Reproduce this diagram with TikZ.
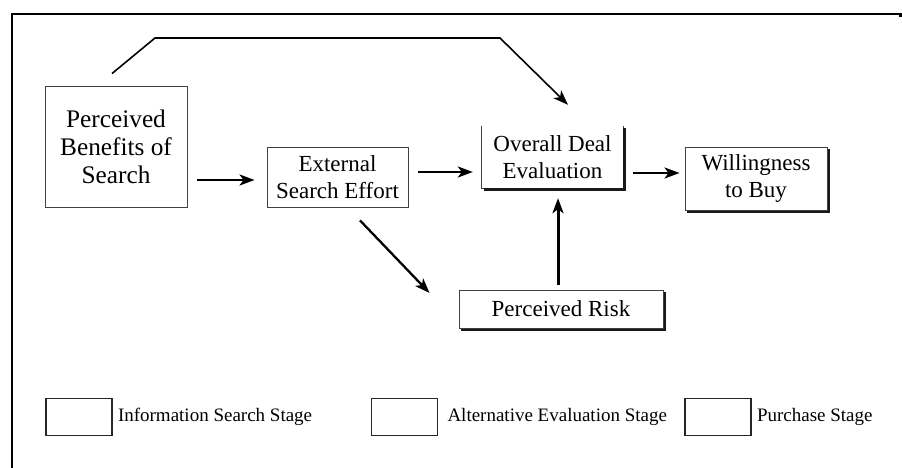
\documentclass[tikz,border=0pt]{standalone}
\usepackage{fontspec}
\setmainfont{Liberation Serif}
\usetikzlibrary{arrows.meta}

% thick drop-shadow edges along the bottom and right side of a node
\newcommand\shadedges[1]{%
  \draw[line width=2.4pt, black!90]
    ([shift={(2,1.3)}]#1.south west) -- ([shift={(1.3,1.3)}]#1.south east)
    -- ([shift={(1.3,2)}]#1.north east);}

\begin{document}
\begin{tikzpicture}[x=1pt, y=-1pt,
  boxed/.style={draw=black!75, line width=0.9pt, inner sep=0pt, align=center,
                font=\fontsize{23}{27.5}\selectfont},
  bare/.style={inner sep=0pt, align=center, font=\fontsize{23}{27.5}\selectfont},
  legbox/.style={draw=black!85, line width=1.6pt, minimum width=66pt, minimum height=37pt, inner sep=0pt},
  legtext/.style={anchor=west, inner sep=0pt, font=\fontsize{19}{22}\selectfont},
  arr/.style={line width=2.3pt, -{Stealth[length=15pt, width=11pt, inset=4pt]}},
  thinarr/.style={line width=1.6pt, -{Stealth[length=15pt, width=11pt, inset=4pt]}}]

  % canvas and outer frame (top and left rules)
  \useasboundingbox (0,0) rectangle (902,468);
  \draw[line width=2.4pt] (12,468) -- (12,14) -- (900.5,14) -- (900.5,17);

  % main boxes
  \node[boxed, font=\fontsize{25.3}{28}\selectfont, minimum width=142pt, minimum height=121pt]
    (ben) at (116,146.5) {Perceived\\Benefits of\\Search};
  \node[boxed, minimum width=141pt, minimum height=60pt] (ext) at (337.5,177)
    {External\\Search Effort};
  \node[bare, minimum width=141pt, minimum height=62pt] (ovr) at (552.5,157)
    {Overall Deal\\Evaluation};
  \draw[black!75, line width=0.9pt] (ovr.north west) -- (ovr.south west)
    -- (ovr.south east) -- (ovr.north east);
  \shadedges{ovr}
  \node[boxed, minimum width=142pt, minimum height=63pt] (wil) at (756,178.5)
    {Willingness\\to Buy};
  \shadedges{wil}
  \node[boxed, minimum width=204pt, minimum height=38pt] (risk) at (561,309)
    {Perceived Risk};
  \shadedges{risk}

  % connectors
  \draw[arr, shorten <=10pt, shorten >=12pt] (ben.east |- 0,180) -- (ext.west |- 0,180);
  \draw[arr, shorten <=10pt, shorten >=9pt] (ext.east |- 0,172) -- (ovr.west |- 0,172);
  \draw[arr, shorten <=10pt, shorten >=5pt] (ovr.east |- 0,173) -- (wil.west |- 0,173);
  \draw[arr, line width=3pt, shorten <=5pt, shorten >=10pt] (risk.north -| 558,0) -- (ovr.south -| 558,0);
  \draw[arr] ([shift={(22.5,13)}]ext.south) -- ([shift={(-29,-16)}]risk.west);
  \coordinate (bendA) at (155,38);
  \coordinate (bendB) at (500,38);
  \draw[thinarr] ([shift={(-4,-12)}]ben.north) -- (bendA) -- (bendB)
    -- ([shift={(15.5,-21)}]ovr.north);

  % legend
  \node[legbox] (lg1) at (79,417) {};
  \node[legtext] (lt1) at ([xshift=5pt]lg1.east) {Information Search Stage};
  \node[legbox] (lg2) at (404.5,417) {};
  \node[legtext] (lt2) at ([xshift=9pt]lg2.east) {Alternative Evaluation Stage};
  \node[legbox] (lg3) at (718,417) {};
  \node[legtext] (lt3) at ([xshift=5pt]lg3.east) {Purchase Stage};
\end{tikzpicture}
\end{document}
